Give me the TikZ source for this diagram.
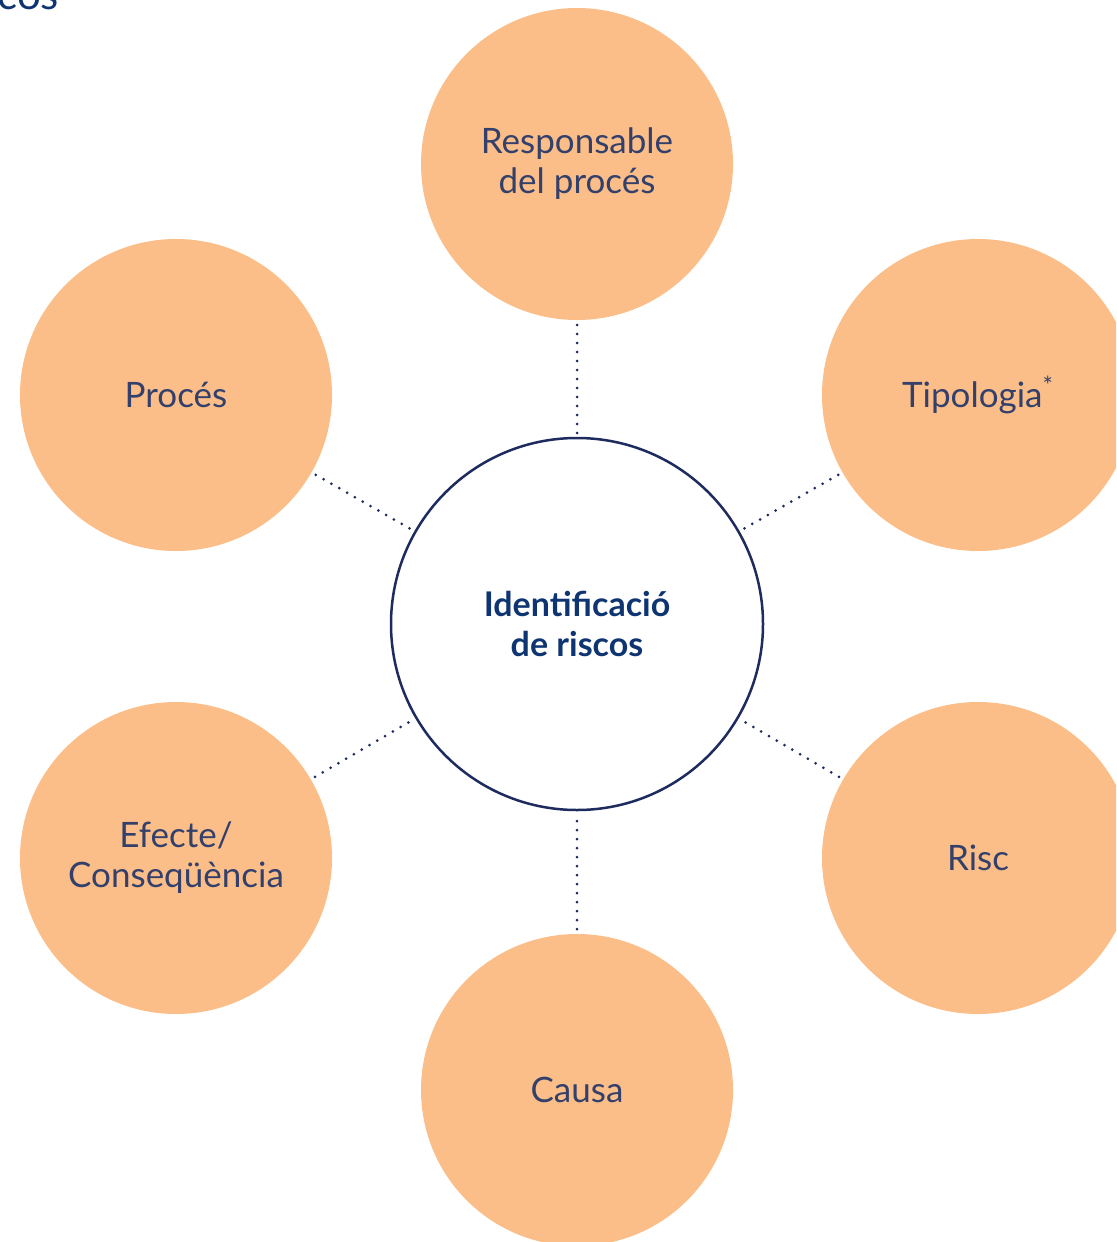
\documentclass[tikz,border=0pt]{standalone}
\usepackage{fontspec}
\setmainfont{Lato}
\definecolor{peach}{HTML}{FCBE88}
\definecolor{navy}{HTML}{1E2B5E}
\definecolor{ink}{HTML}{33406B}
\definecolor{titleblue}{HTML}{0E3572}
\begin{document}
\begin{tikzpicture}[x=0.5pt,y=-0.5pt,
  petal/.style={circle,fill=peach,minimum size=312*0.5pt,inner sep=0pt,outer sep=0pt,
    text=ink,font=\fontsize{17.5}{20}\selectfont,align=center},
  hub/.style={circle,draw=navy,line width=1.25pt,fill=white,minimum size=372*0.5pt,inner sep=0pt,outer sep=0pt,
    text=titleblue,font=\bfseries\fontsize{17}{20}\selectfont,align=center},
  link/.style={draw=navy,line width=1.5pt,line cap=round,dash pattern=on 0pt off 4.5pt,shorten <=2.5pt,shorten >=1pt}]
\useasboundingbox (0,0) rectangle (1116,1242);
\clip (0,0) rectangle (1116,1242);
\node[anchor=base west,text=titleblue,font=\fontsize{21}{24}\selectfont,inner sep=0pt] (title) at (-3,10) {cos};
\node[hub] (c) at (577,624) {Identificació\\de riscos};
\node[petal] (top) at (577,164) {Responsable\\del procés};
\node[petal] (tl) at (176,395) {Procés};
\node[petal] (tr) at (978,395) {Tipologia\textsuperscript{*}};
\node[petal] (bl) at (176,858) {Efecte/\\Conseqüència};
\node[petal] (br) at (978,858) {Risc};
\node[petal] (bot) at (577,1090) {Causa};
\foreach \n in {top,tl,tr,bl,br,bot} \draw[link] (\n) -- (c);
\end{tikzpicture}
\end{document}
